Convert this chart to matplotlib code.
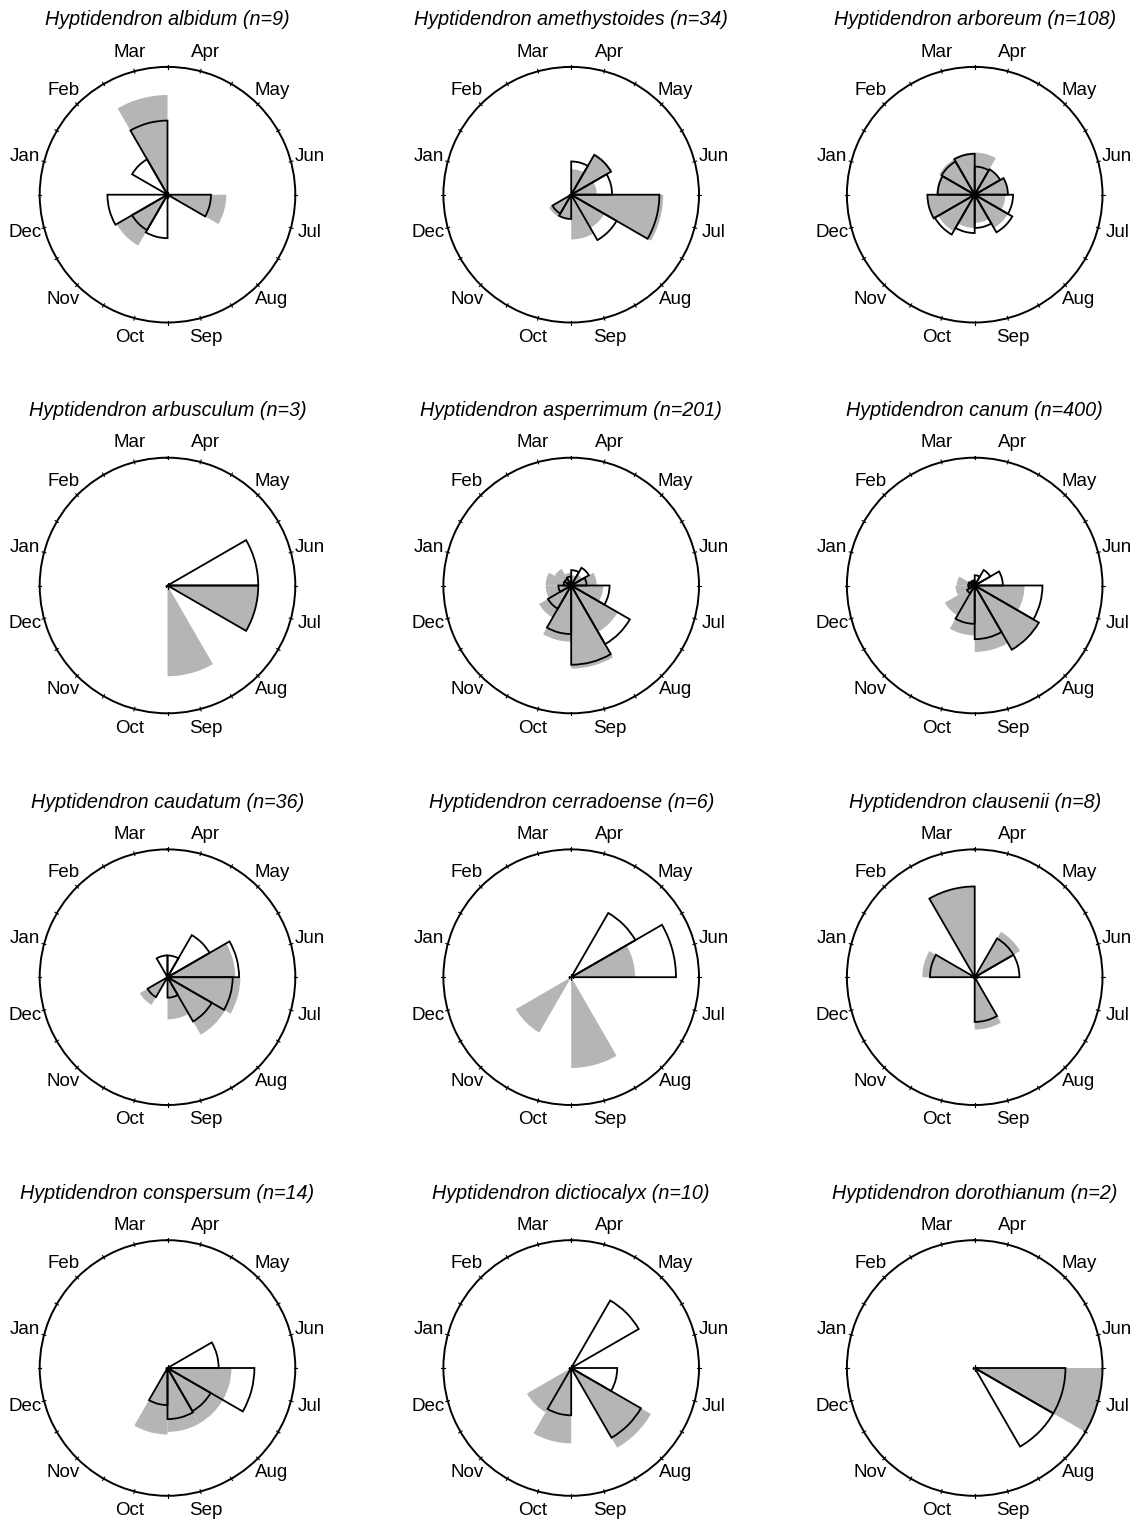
import numpy as np
import matplotlib
matplotlib.use("Agg")
import matplotlib.pyplot as plt

plt.rcParams["font.family"] = ["Liberation Sans", "DejaVu Sans"]

MONTHS = ["Jan", "Feb", "Mar", "Apr", "May", "Jun",
          "Jul", "Aug", "Sep", "Oct", "Nov", "Dec"]

SPECIES = ["albidum", "amethystoides", "arboreum", "arbusculum",
           "asperrimum", "canum", "caudatum", "cerradoense",
           "clausenii", "conspersum", "dictiocalyx", "dorothianum"]
N_RECORDS = [9, 34, 108, 3, 201, 400, 36, 6, 8, 14, 10, 2]

# radial length of each month wedge (fraction of outer circle), Jan..Dec
# grey filled wedges
GREY = [
    [0, 0, 0.78, 0, 0, 0, 0.46, 0, 0, 0, 0.46, 0],                                # albidum
    [0, 0, 0, 0.20, 0.37, 0.20, 0.72, 0.30, 0.35, 0.19, 0.20, 0],                  # amethystoides
    [0.30, 0.32, 0.33, 0.33, 0.23, 0.26, 0.24, 0.30, 0.22, 0.26, 0.33, 0.37],      # arboreum
    [0, 0, 0, 0, 0, 0, 0.71, 0, 0.71, 0, 0, 0],                                    # arbusculum
    [0.20, 0.15, 0.10, 0.08, 0.10, 0.20, 0.25, 0.42, 0.65, 0.44, 0.29, 0.20],      # asperrimum
    [0.14, 0.05, 0.04, 0.03, 0, 0, 0.39, 0.58, 0.52, 0.39, 0.27, 0.15],            # canum
    [0, 0, 0, 0, 0, 0.53, 0.57, 0.52, 0.33, 0, 0.25, 0],                           # caudatum
    [0, 0, 0, 0, 0, 0.50, 0, 0, 0.71, 0, 0.50, 0],                                 # cerradoense
    [0.41, 0, 0.71, 0, 0.41, 0, 0, 0, 0.41, 0, 0, 0],                              # clausenii
    [0, 0, 0, 0, 0, 0, 0.50, 0.50, 0.50, 0.52, 0, 0],                              # conspersum
    [0, 0, 0, 0, 0, 0, 0, 0.72, 0, 0.59, 0.40, 0],                                 # dictiocalyx
    [0, 0, 0, 0, 0, 0, 1.00, 0, 0, 0, 0, 0],                                       # dorothianum
]
# open wedges with black outline
OPEN = [
    [0, 0.32, 0.58, 0, 0, 0, 0.34, 0, 0, 0.34, 0.32, 0.47],
    [0, 0, 0, 0.26, 0.36, 0.32, 0.69, 0.41, 0, 0.19, 0.17, 0],
    [0.29, 0.30, 0.32, 0.22, 0.23, 0.26, 0.30, 0.34, 0.26, 0.30, 0.36, 0.37],
    [0, 0, 0, 0, 0, 0.71, 0.71, 0, 0, 0, 0, 0],
    [0.06, 0.06, 0.07, 0.12, 0.16, 0.12, 0.30, 0.53, 0.62, 0.38, 0.21, 0.10],
    [0.05, 0.04, 0.04, 0.08, 0.14, 0.22, 0.53, 0.58, 0.42, 0.30, 0.07, 0.05],
    [0, 0, 0.17, 0.17, 0.38, 0.56, 0.51, 0.40, 0.16, 0, 0.18, 0],
    [0, 0, 0, 0, 0.58, 0.82, 0, 0, 0, 0, 0, 0],
    [0.35, 0, 0.71, 0, 0.35, 0.35, 0, 0, 0.35, 0, 0, 0],
    [0, 0, 0, 0, 0, 0.40, 0.68, 0.39, 0.40, 0.29, 0, 0],
    [0, 0, 0, 0, 0.61, 0, 0.36, 0.63, 0, 0.37, 0, 0],
    [0, 0, 0, 0, 0, 0, 0.71, 0.71, 0, 0, 0, 0],
]

W, H = 1137, 1521
col_x = [167.5, 571.2, 974.7]
row_y = [194.7, 585.5, 977.2, 1368.0]
R = 127.8

# April starts at 12 o'clock, months run clockwise
theta = np.radians((np.arange(12) - 3) % 12 * 30 + 15)
width = np.radians(30)
tick_angles = np.radians(np.arange(0, 360, 15))

fig = plt.figure(figsize=(W / 100, H / 100), dpi=100)

for i, name in enumerate(SPECIES):
    cx, cy = col_x[i % 3], row_y[i // 3]
    ax = fig.add_axes([(cx - R) / W, 1 - (cy + R) / H, 2 * R / W, 2 * R / H],
                      projection="polar")
    ax.set_theta_zero_location("N")
    ax.set_theta_direction(-1)

    ax.bar(theta, GREY[i], width=width, color="#b5b5b5", linewidth=0, zorder=2)
    ax.bar(theta, OPEN[i], width=width, fill=False, edgecolor="black",
           linewidth=1.3, zorder=3)
    ax.plot([0], [0], marker="+", color="black", ms=5, mew=1, zorder=4)

    # small ticks across the outer circle every half month
    for a in tick_angles:
        ax.plot([a, a], [0.986, 1.016], color="black", lw=0.8,
                clip_on=False, zorder=5)

    ax.set_ylim(0, 1)
    ax.set_yticks([])
    ax.set_xticks([])
    ax.grid(False)
    ax.spines["polar"].set_linewidth(1.4)

    for m, lab in enumerate(MONTHS):
        ax.text(theta[m], 1.155, lab, ha="center", va="center",
                fontsize=13.5, clip_on=False)

    ax.set_title(f"Hyptidendron {name} (n={N_RECORDS[i]})",
                 fontsize=14.2, style="italic", pad=30)

fig.savefig("out.png", dpi=100)
